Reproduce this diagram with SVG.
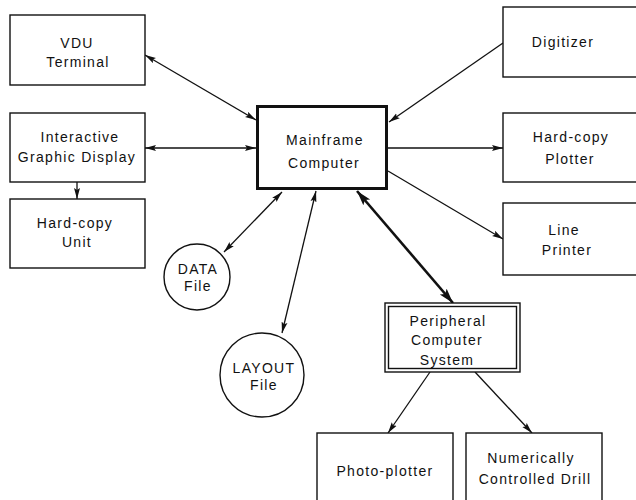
<svg xmlns="http://www.w3.org/2000/svg" width="636" height="500" viewBox="0 0 636 500">
<style>
.box{fill:#fff;stroke:#111;stroke-width:1.4}
.main{fill:#fff;stroke:#111;stroke-width:3}
.t{font-family:"Liberation Sans",Arial,sans-serif;font-size:14px;letter-spacing:1.3px;fill:#111;text-anchor:middle}
.c{fill:none;stroke:#111;stroke-width:1.3}
.ct{fill:none;stroke:#111;stroke-width:2.6}
</style>
<defs>
<marker id="ah" markerUnits="userSpaceOnUse" markerWidth="12" markerHeight="8" refX="11" refY="3.5" orient="auto-start-reverse">
<path d="M0,0.5 L11,3.5 L0,6.5 L2,3.5 z" fill="#111"/>
</marker>
<marker id="ahb" markerUnits="userSpaceOnUse" markerWidth="16" markerHeight="11" refX="15" refY="5" orient="auto-start-reverse">
<path d="M0,0.5 L15,5 L0,9.5 L3,5 z" fill="#111"/>
</marker>
</defs>
<rect width="636" height="500" fill="#fff"/>
<g id="connectors">
<line class="c" x1="145" y1="55" x2="256" y2="120" marker-start="url(#ah)" marker-end="url(#ah)"/>
<line class="c" x1="145" y1="148" x2="256" y2="148" marker-start="url(#ah)" marker-end="url(#ah)"/>
<line class="c" x1="77" y1="182" x2="77" y2="199" marker-end="url(#ah)"/>
<line class="c" x1="503" y1="43" x2="389" y2="122" marker-end="url(#ah)"/>
<line class="c" x1="388" y1="148" x2="503" y2="148" marker-end="url(#ah)"/>
<line class="c" x1="388" y1="171" x2="503" y2="239" marker-end="url(#ah)"/>
<line class="c" x1="224" y1="252" x2="282" y2="192" marker-start="url(#ah)" marker-end="url(#ah)"/>
<line class="c" x1="282" y1="333" x2="316" y2="191" marker-start="url(#ah)" marker-end="url(#ah)"/>
<line class="ct" x1="357" y1="191" x2="453" y2="303" marker-start="url(#ahb)" marker-end="url(#ahb)"/>
<line class="c" x1="430" y1="372" x2="388" y2="433" marker-end="url(#ah)"/>
<line class="c" x1="475" y1="372" x2="532" y2="433" marker-end="url(#ah)"/>
</g>
<g id="vdu">
<rect class="box" x="10" y="15" width="135" height="70"/>
<text class="t" x="77" y="48">VDU</text>
<text class="t" x="78" y="67">Terminal</text>
</g>
<g id="interactive">
<rect class="box" x="10" y="113" width="135" height="69"/>
<text class="t" x="80" y="142">Interactive</text>
<text class="t" x="77" y="162">Graphic Display</text>
</g>
<g id="hardcopy-unit">
<rect class="box" x="10" y="199" width="135" height="69"/>
<text class="t" x="75" y="228">Hard-copy</text>
<text class="t" x="77" y="247">Unit</text>
</g>
<g id="mainframe">
<rect class="main" x="257.5" y="106.5" width="129" height="82"/>
<text class="t" x="325" y="145">Mainframe</text>
<text class="t" x="324" y="168">Computer</text>
</g>
<g id="digitizer">
<rect class="box" x="503" y="7" width="140" height="70"/>
<text class="t" x="563" y="47">Digitizer</text>
</g>
<g id="hardcopy-plotter">
<rect class="box" x="503" y="113" width="140" height="69"/>
<text class="t" x="571" y="142">Hard-copy</text>
<text class="t" x="570" y="164">Plotter</text>
</g>
<g id="line-printer">
<rect class="box" x="503" y="203" width="140" height="72"/>
<text class="t" x="564" y="235">Line</text>
<text class="t" x="567" y="255">Printer</text>
</g>
<g id="data-file">
<circle class="box" cx="197" cy="277" r="33"/>
<text class="t" x="198" y="274">DATA</text>
<text class="t" x="198" y="291">File</text>
</g>
<g id="layout-file">
<circle class="box" cx="262" cy="375" r="42"/>
<text class="t" x="264" y="373">LAYOUT</text>
<text class="t" x="264" y="390">File</text>
</g>
<g id="peripheral">
<rect class="box" x="385" y="303" width="135" height="69"/>
<rect class="box" x="388.5" y="306.5" width="128" height="62"/>
<text class="t" x="448" y="326">Peripheral</text>
<text class="t" x="447" y="345">Computer</text>
<text class="t" x="447" y="365">System</text>
</g>
<g id="photo-plotter">
<rect class="box" x="317" y="433" width="136" height="80"/>
<text class="t" x="385" y="476">Photo-plotter</text>
</g>
<g id="nc-drill">
<rect class="box" x="466" y="433" width="136" height="80"/>
<text class="t" x="531" y="463">Numerically</text>
<text class="t" x="535" y="484">Controlled Drill</text>
</g>
</svg>
